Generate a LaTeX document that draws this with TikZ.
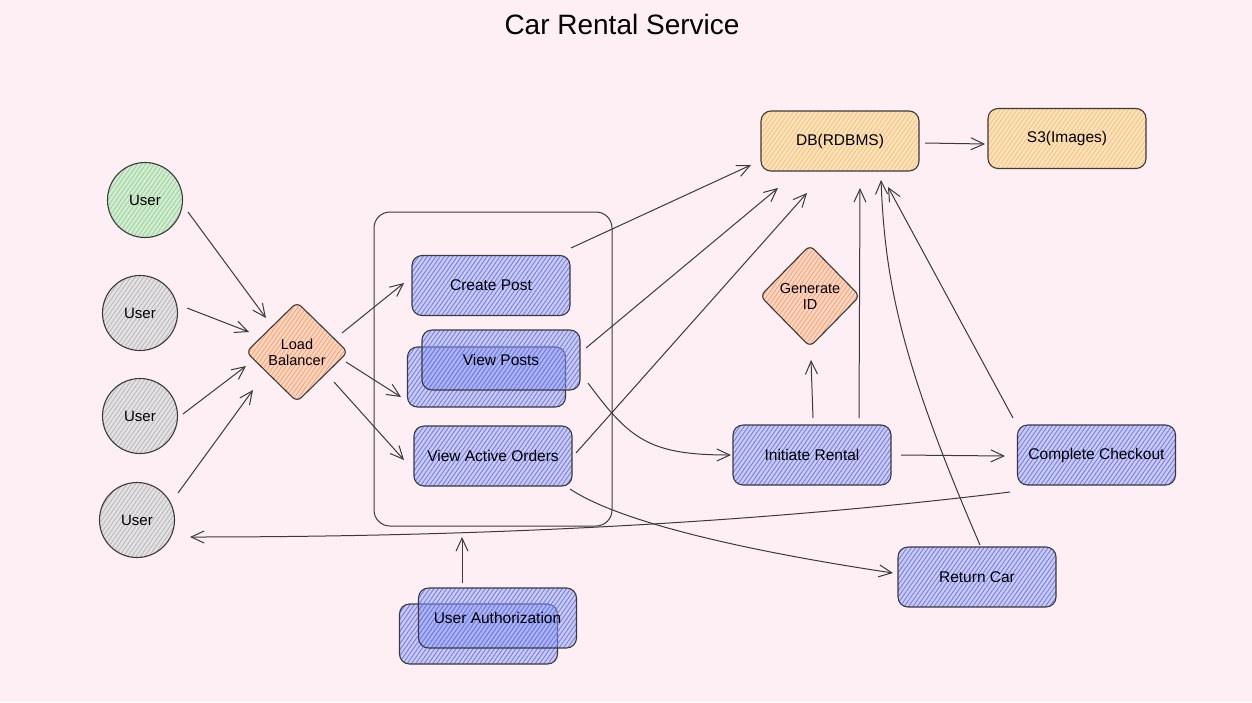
\documentclass[tikz,border=0pt]{standalone}
\usepackage{fontspec}
\setmainfont{Liberation Sans}
\usetikzlibrary{arrows.meta,shapes.geometric,patterns.meta}
\definecolor{bgpink}{HTML}{FDEFF4}
\definecolor{ink}{HTML}{3A3A3A}
\definecolor{blueF}{HTML}{8C99F0}
\definecolor{blueH}{HTML}{6F7FEC}
\definecolor{orangeF}{HTML}{FDE3BE}
\definecolor{orangeH}{HTML}{F9C27A}
\definecolor{peachF}{HTML}{FCD6C0}
\definecolor{peachH}{HTML}{F7A57E}
\definecolor{greenF}{HTML}{D2ECD2}
\definecolor{greenH}{HTML}{9ED49F}
\definecolor{grayF}{HTML}{E4E1E5}
\definecolor{grayH}{HTML}{BDBABE}
\tikzset{
  every node/.style={font=\fontsize{15.5}{18}\selectfont, text=black},
  hatch/.style 2 args={preaction={fill=#1}, preaction={pattern={Lines[angle=55,distance=3.5pt,line width=0.9pt]}, pattern color=#2}},
  box/.style={draw=ink, line width=1.1pt, rounded corners=10pt, minimum width=158pt, minimum height=60pt, inner sep=0pt},
  bluebox/.style={box, preaction={fill=blueF, fill opacity=0.42}, preaction={pattern={Lines[angle=55,distance=3.5pt,line width=0.9pt]}, pattern color=blueH, fill opacity=0.35}},
  orangebox/.style={box, hatch={orangeF}{orangeH}},
  dia/.style={diamond, draw=ink, line width=1.1pt, hatch={peachF}{peachH}, rounded corners=6pt, minimum width=102pt, minimum height=100pt, inner sep=0pt, align=center, font=\fontsize{14.5}{16}\selectfont},
  usr/.style={circle, draw=ink, line width=1.1pt, minimum size=75pt, inner sep=0pt, font=\fontsize{15}{18}\selectfont},
  arr/.style={draw=ink, line width=1pt, -{Straight Barb[length=13pt,width=12pt,line width=1pt]}},
}
\begin{document}
\begin{tikzpicture}[x=1pt,y=-1pt]
\fill[bgpink] (0,0) rectangle (1252,702);
\useasboundingbox (0,0) rectangle (1252,702);

\node[font=\fontsize{28}{32}\selectfont] (title) at (622,24) {Car Rental Service};

% users
\node[usr, hatch={greenF}{greenH}] (u1) at (145,200) {User};
\node[usr, hatch={grayF}{grayH}] (u2) at (140,313) {User};
\node[usr, hatch={grayF}{grayH}] (u3) at (140,416) {User};
\node[usr, hatch={grayF}{grayH}] (u4) at (137,520) {User};

% load balancer
\node[dia] (lb) at (297,352) {Load\\Balancer};

% container
\node[draw=ink, line width=1pt, rounded corners=16pt, minimum width=238pt, minimum height=314pt] (svc) at (493,369) {};

\node[bluebox] (cp) at (491,285.5) {Create Post};
\node[bluebox] (vp2) at (486.5,377) {};
\node[bluebox] (vp1) at (501,360) {View Posts};
\node[bluebox] (vao) at (493,456) {View Active Orders};

\node[bluebox] (ua2) at (478.5,634) {};
\node[bluebox] (ua1) at (497.5,618) {User Authorization};

\node[orangebox] (db) at (840,141) {DB(RDBMS)};
\node[orangebox] (s3) at (1067,138.5) {S3(Images)};

\node[dia, minimum width=100pt, minimum height=102pt] (gid) at (810,296) {Generate\\ID};

\node[bluebox] (ir) at (812,455) {Initiate Rental};
\node[bluebox] (cc) at (1096.5,455) {Complete Checkout};
\node[bluebox] (rc) at (977,577) {Return Car};

% users -> lb
\draw[arr] ([shift={(43,12)}]u1.center) -- ([shift={(-31,-34)}]lb.center);
\draw[arr] ([shift={(47,-5)}]u2.center) -- ([shift={(-48,-20)}]lb.center);
\draw[arr] ([shift={(43,-2)}]u3.center) -- ([shift={(-51,14)}]lb.center);
\draw[arr] ([shift={(41,-27)}]u4.center) -- ([shift={(-44,38)}]lb.center);

% lb -> services
\draw[arr] ([shift={(45,-19)}]lb.center) -- ([shift={(-87,-2.5)}]cp.center);
\draw[arr] ([shift={(49,10)}]lb.center) -- ([shift={(-85.5,20)}]vp2.center);
\draw[arr] ([shift={(37,30)}]lb.center) -- ([shift={(-89,4)}]vao.center);

% services -> db
\draw[arr] ([shift={(80,-37.5)}]cp.center) -- ([shift={(-89,24)}]db.center);
\draw[arr] ([shift={(85,-12)}]vp1.center) -- ([shift={(-62,47)}]db.center);
\draw[arr] ([shift={(83,-3)}]vao.center) -- ([shift={(-33,52)}]db.center);

% view posts -> initiate rental
\draw[arr] ([shift={(87,23)}]vp1.center) .. controls +(42,57) and +(-81,0) .. ([shift={(-81,0)}]ir.center);

% initiate rental
\draw[arr] ([shift={(1,-37)}]ir.center) -- ([shift={(1,64)}]gid.center);
\draw[arr] ([shift={(47,-37)}]ir.center) -- ([shift={(20,47)}]db.center);
\draw[arr] ([shift={(89,0)}]ir.center) -- ([shift={(-91.5,1)}]cc.center);

% checkout
\draw[arr] ([shift={(-83.5,-37)}]cc.center) -- ([shift={(48,46)}]db.center);
\draw[arr] ([shift={(-86.5,37)}]cc.center) .. controls +(-310,38) and +(210,0) .. ([shift={(53,17)}]u4.center);

% return car
\draw[arr] ([shift={(3,-32)}]rc.center) .. controls +(-80,-185) and +(4,100) .. ([shift={(41,39)}]db.center);
\draw[arr] ([shift={(77,33)}]vao.center) .. controls +(60,40) and +(-100,-15) .. ([shift={(-84,-4)}]rc.center);

% auth -> container
\draw[arr] ([shift={(-35.5,-35)}]ua1.center) -- ([shift={(-31,168)}]svc.center);

% db -> s3
\draw[arr] ([shift={(85,2)}]db.center) -- ([shift={(-82,5.5)}]s3.center);
\end{tikzpicture}
\end{document}
